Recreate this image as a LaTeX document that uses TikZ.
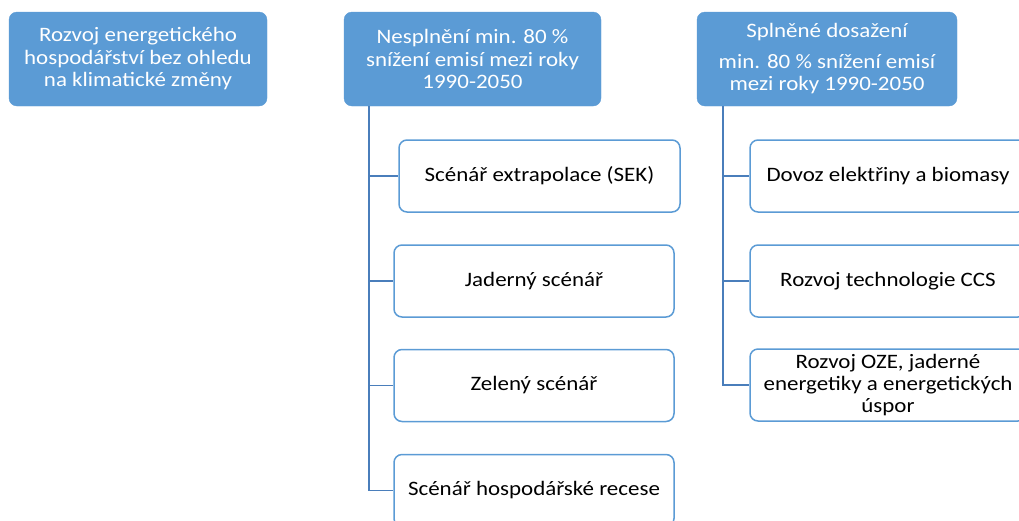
\documentclass[tikz,border=0pt]{standalone}
\usepackage{fontspec}
\setmainfont{Carlito}[FakeStretch=1.12]
\definecolor{boxblue}{HTML}{5B9BD5}
\definecolor{lineblue}{HTML}{4A7EBB}
\tikzset{
  head/.style={rectangle, rounded corners=8pt, fill=boxblue, draw=boxblue, text=white,
    minimum height=94pt, align=center, font=\fontsize{20.5}{22.5}\selectfont},
  item/.style={rectangle, rounded corners=8pt, fill=white, draw=boxblue, line width=1.5pt,
    minimum height=72pt, align=center, font=\fontsize{20.5}{22}\selectfont},
  branch/.style={draw=lineblue, line width=1.6pt}
}
\begin{document}
\begin{tikzpicture}[x=1pt, y=-1pt]
    \useasboundingbox (0,0) rectangle (1019,520);
    \clip (0,0) rectangle (1019,520);
    % headings
    \node[head, minimum width=258pt] (gen) at (138,59) {Rozvoj energetického\\hospodářství bez ohledu\\na klimatické změny};
    \node[head, minimum width=257pt] (nes) at (472.5,59) {Nesplnění min. 80 \%\\snížení emisí mezi roky\\1990-2050};
    \node[head, minimum width=260pt] (spl) at (827,59) {Splněné dosažení\\[8pt]min. 80 \% snížení emisí\\mezi roky 1990-2050};
    % scenarios without the target
    \node[item, minimum width=281pt] (sek) at (539.5,176) {Scénář extrapolace (SEK)};
    \node[item, minimum width=280pt] (jad) at (534,281) {Jaderný scénář};
    \node[item, minimum width=280pt] (zel) at (534,385.5) {Zelený scénář};
    \node[item, minimum width=280pt] (rec) at (534,490.5) {Scénář hospodářské recese};
    % scenarios with the target
    \node[item, minimum width=276pt] (dov) at (888,176) {Dovoz elektřiny a biomasy};
    \node[item, minimum width=276pt] (ccs) at (888,281) {Rozvoj technologie CCS};
    \node[item, minimum width=276pt] (oze) at (888,385) {Rozvoj OZE, jaderné\\energetiky a energetických\\úspor};
    \foreach \c in {sek,jad,zel,rec}
      \draw[branch] ([xshift=25pt]nes.south west) |- (\c.west);
    \foreach \c in {dov,ccs,oze}
      \draw[branch] ([xshift=26pt]spl.south west) |- (\c.west);
\end{tikzpicture}
\end{document}
